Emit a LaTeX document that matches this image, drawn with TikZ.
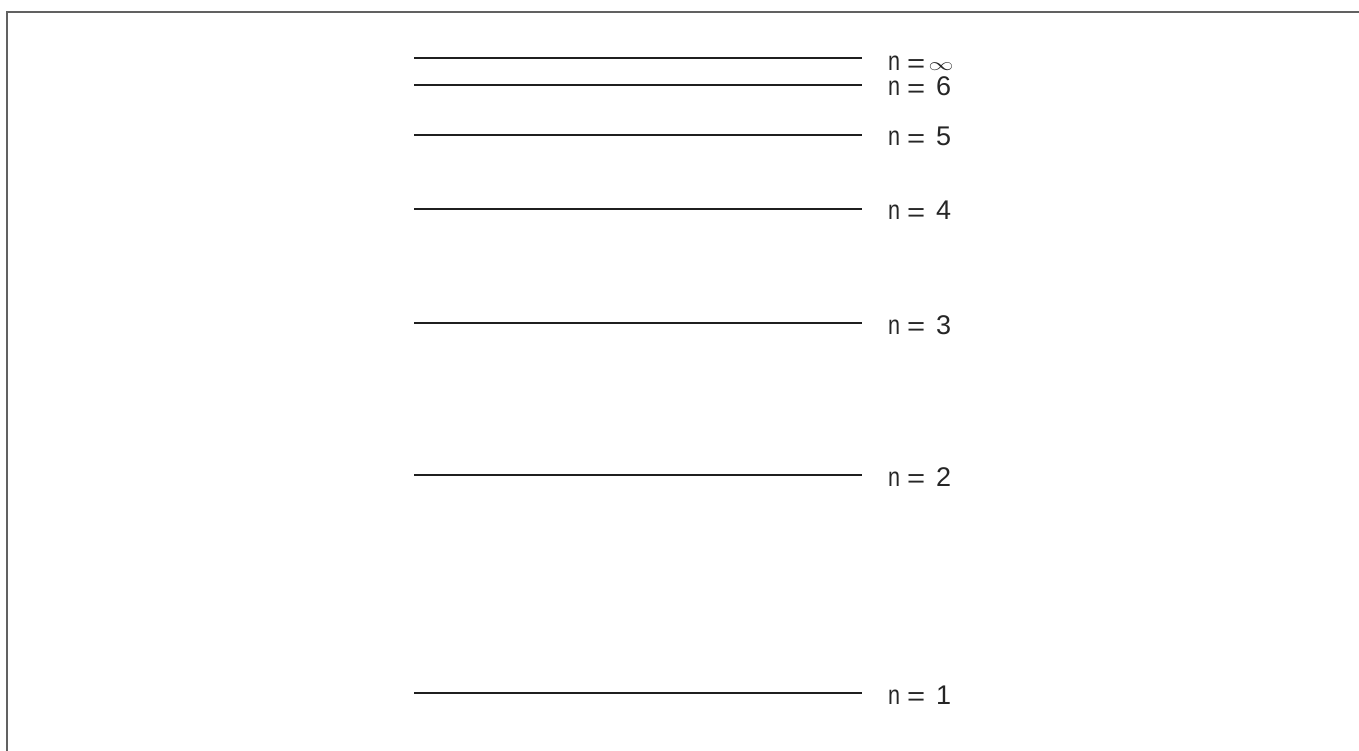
\documentclass[tikz,border=0pt]{standalone}
\usepackage{graphicx}
\usepackage{fontspec}
\setmainfont{Liberation Sans}
\newcommand{\nsym}{\scalebox{0.8}[1]{n}}
\newcommand{\eqsign}{\hspace{6.8pt}\raisebox{-1.5pt}{\scalebox{1}[0.85]{\fontsize{31}{33}\selectfont=}}}
\begin{document}
\begin{tikzpicture}[x=1pt,y=-1pt,
  frame/.style={draw=black!62, line width=2pt},
  level/.style={draw=black!88, line width=2pt},
  lab/.style={anchor=base west, inner sep=0pt, font=\fontsize{27}{30}\selectfont, text=black!85}]
\useasboundingbox (0,0) rectangle (1359,751);
\draw[frame] (7,751) -- (7,12) -- (1359,12);
\coordinate (ainf) at (414,58);  \coordinate (binf) at (862,58);
\draw[level] (ainf) -- (binf);
\node[lab] (labinf) at (888,58+12.8) {\nsym\eqsign\hspace{3.4pt}\scalebox{1}[0.72]{\fontsize{31}{33}\selectfont$\infty$}};
\foreach \k/\y in {6/85, 5/135, 4/209, 3/323, 2/475, 1/693}{
  \coordinate (a\k) at (414,\y);
  \coordinate (b\k) at (862,\y);
  \draw[level] (a\k) -- (b\k);
  \node[lab] (lab\k) at (888,\y+11) {\nsym\eqsign\hspace{11pt}\k};
}
\end{tikzpicture}
\end{document}
